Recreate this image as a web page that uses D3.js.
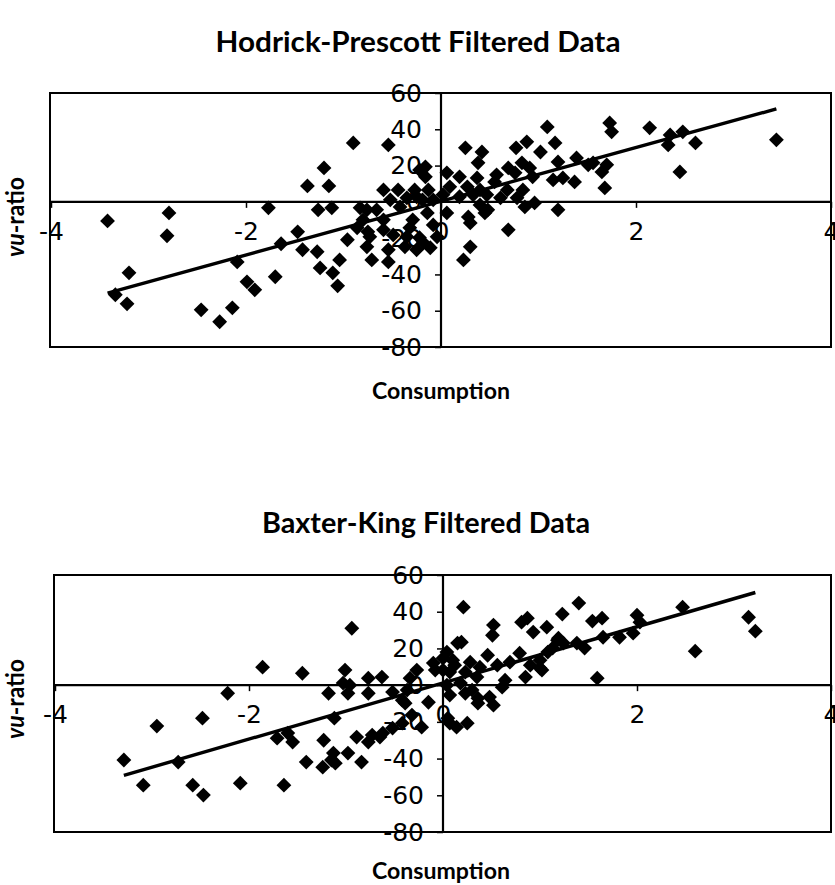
<!DOCTYPE html>
<html>
<head>
<meta charset="utf-8">
<script src="https://cdn.jsdelivr.net/npm/d3@7"></script>
<style>
  html, body { margin: 0; padding: 0; background: #fff; }
  svg { display: block; }
</style>
</head>
<body>
<svg id="chart" width="835" height="885"></svg>
<script>
// ---------- DATA ----------
const titles = ["Hodrick-Prescott Filtered Data", "Baxter-King Filtered Data"];
const xLabel = "Consumption";
const xTicks = [-4, -2, 0, 2, 4];
const yTicks = [-80, -60, -40, -20, 0, 20, 40, 60];

// Hodrick-Prescott filtered data: consumption (x) vs vu-ratio (y)
const hpX = [-3.42,-2.79,-2.81,-3.20,-3.34,-3.22,-2.46,-2.27,-2.14,-1.99,-1.91,-1.70,-2.09,-1.77,-1.64,-1.47,-1.42,-1.27,-1.24,-1.11,
  -1.06,-1.04,-0.96,-1.37,-1.20,-1.15,-1.26,-1.12,-0.90,-0.54,-0.16,-0.16,-0.59,-0.44,-0.27,-0.13,-0.52,-0.35,-0.19,-0.08,
  -0.76,-0.66,-0.42,-0.14,0.06,-0.80,-0.59,-0.29,-0.86,-0.59,-0.32,-0.08,-0.73,-0.49,-0.35,-0.22,-0.04,-0.76,-0.54,-0.37,
  -0.25,-0.11,-0.71,-0.54,1.09,0.25,0.42,1.17,0.88,0.77,1.02,0.38,0.69,0.83,0.91,1.20,1.39,1.56,0.57,0.76,
  0.94,1.15,1.25,1.37,0.06,0.19,0.37,0.09,0.27,0.40,0.55,0.68,0.84,0.02,0.19,0.33,0.47,0.61,0.78,0.40,
  0.48,0.86,0.96,1.20,0.28,0.30,0.45,0.69,0.30,0.23,1.73,1.75,2.14,2.35,2.33,2.48,2.61,3.44,2.45,1.70,
  1.65,1.68,1.51,-0.22,-0.18,-0.83,-0.75,-0.25];
const hpY = [-10.5,-6.1,-18.7,-39.1,-51.2,-56.2,-59.5,-66.1,-58.4,-44.1,-48.5,-41.3,-33.1,-3.3,-23.1,-16.5,-26.4,-27.5,-36.4,-39.1,
  -46.3,-32.0,-20.9,8.8,18.7,8.8,-4.4,-3.3,32.5,31.4,19.3,13.8,6.6,6.6,6.6,6.6,1.1,2.2,1.1,1.1,
  -4.4,-4.4,-2.8,-6.1,-6.1,-9.9,-9.9,-9.9,-14.3,-15.4,-14.3,-12.7,-19.3,-18.2,-19.3,-19.8,-19.3,-24.8,-26.4,-24.8,
  -26.4,-25.3,-32.0,-33.1,41.3,29.8,27.5,32.5,33.1,29.8,27.5,21.5,18.7,21.5,18.7,22.0,24.2,21.5,14.9,16.0,
  13.8,12.1,13.2,11.0,16.0,13.8,13.2,8.3,8.3,6.6,11.0,6.6,6.6,3.9,2.8,3.9,3.9,2.2,2.2,-1.7,
  -4.4,-2.8,-0.6,-4.4,-8.3,-11.6,-6.1,-15.4,-24.8,-32.0,43.5,38.6,40.8,36.9,31.4,38.6,32.5,34.2,16.5,20.4,
  16.5,7.7,20.4,17.6,-22.6,-3.3,-16.5,2.8];
const hpTrend = [0.3, 14.8];   // [intercept, slope]

// Baxter-King filtered data
const bkX = [-3.29,-3.09,-2.95,-2.73,-2.58,-2.47,-2.48,-2.22,-2.09,-1.86,-1.71,-1.60,-1.55,-1.64,-1.45,-1.41,-1.23,-1.24,-1.15,-1.11,
  -1.12,-0.98,-0.84,-0.94,-1.18,-1.01,-1.03,-0.96,-0.98,-0.77,-0.77,-0.63,-0.89,-0.77,-0.65,-0.52,-0.42,-0.32,-0.22,-0.42,
  -0.52,-0.37,-0.27,-0.34,-0.15,-0.10,-0.08,-0.39,0.00,0.00,0.12,0.15,0.05,0.14,-0.73,-0.62,-1.13,0.21,0.52,0.51,
  0.87,0.81,0.93,1.07,1.23,1.40,1.54,1.64,1.65,0.19,0.46,0.79,1.00,1.08,1.19,1.24,1.38,1.46,1.59,0.85,
  0.64,0.61,0.38,0.56,0.69,0.90,1.00,0.04,0.10,0.28,0.07,0.23,0.35,0.04,0.18,0.30,0.07,0.23,0.36,0.48,
  0.52,0.36,0.07,0.25,2.47,2.00,2.03,3.15,3.22,2.60,1.96,1.82,1.18,1.13,1.02];
const bkY = [-40.8,-54.5,-22.3,-41.9,-54.5,-59.9,-18.0,-4.4,-53.4,9.8,-28.9,-26.1,-31.0,-54.5,6.5,-41.9,-30.0,-44.7,-40.8,-42.5,
  -18.0,-37.0,-41.9,31.0,-4.4,8.2,1.1,0.0,-4.4,3.8,-4.4,4.4,-28.3,-31.0,-28.3,-23.4,-20.7,-16.3,-22.9,-8.2,
  -3.8,-2.7,8.2,3.8,-9.3,12.0,8.2,-9.8,8.2,14.7,10.9,22.9,-18.0,-22.9,-27.2,-26.1,-37.0,42.5,32.7,27.2,
  36.5,34.3,28.9,31.6,38.7,44.7,34.9,36.5,26.1,23.4,16.3,17.4,13.6,18.0,25.6,22.9,22.9,20.2,3.8,4.4,
  2.7,-1.1,9.8,10.9,12.5,10.9,9.3,18.0,13.6,12.5,7.1,7.1,4.4,0.0,1.1,-2.7,-5.4,-4.4,-7.1,-6.5,
  -10.9,-9.8,-20.7,-20.7,42.5,38.1,34.3,37.0,29.4,18.5,28.3,26.1,24.5,20.2,8.2];
const bkTrend = [1.2, 15.3];   // [intercept, slope]

// ---------- DRAWING ----------
const svg = d3.select("#chart");

const panels = [
  { title: titles[0], xs: hpX, ys: hpY, trend: hpTrend,
    left: 50, right: 831, top: 93, bottom: 347,
    titleX: 418, titleY: 52, titleW: 405, xLabY: 399, yLabY: 217 },
  { title: titles[1], xs: bkX, ys: bkY, trend: bkTrend,
    left: 54, right: 831, top: 575, bottom: 832,
    titleX: 426, titleY: 533, titleW: 328, xLabY: 879, yLabY: 699 }
];

const diamond = d3.symbol().type(d3.symbolSquare).size(110);
const labelFont = "'DejaVu Sans', Verdana, sans-serif";
const titleFont = "Lato, 'Open Sans', sans-serif";

panels.forEach(p => {
  const x = d3.scaleLinear().domain([-4, 4]).range([p.left + 1, p.right]);
  const y = d3.scaleLinear().domain([-80, 60]).range([p.bottom, p.top]);
  const g = svg.append("g");

  // title
  g.append("text")
    .attr("x", p.titleX).attr("y", p.titleY)
    .attr("text-anchor", "middle")
    .attr("font-family", titleFont).attr("font-weight", 700)
    .attr("font-size", 28)
    .attr("textLength", p.titleW).attr("lengthAdjust", "spacingAndGlyphs")
    .text(p.title);

  // x-axis label
  g.append("text")
    .attr("x", 441).attr("y", p.xLabY)
    .attr("text-anchor", "middle")
    .attr("font-family", titleFont).attr("font-weight", 700)
    .attr("font-size", 23.5)
    .attr("textLength", 138).attr("lengthAdjust", "spacingAndGlyphs")
    .text(xLabel);

  // y-axis label (vu italic)
  const yl = g.append("text")
    .attr("transform", `translate(24,${p.yLabY}) rotate(-90)`)
    .attr("text-anchor", "middle")
    .attr("font-family", titleFont).attr("font-weight", 700)
    .attr("font-size", 25)
    .attr("textLength", 80).attr("lengthAdjust", "spacingAndGlyphs");
  yl.append("tspan").attr("font-style", "italic").text("vu");
  yl.append("tspan").text("-ratio");

  // plot frame
  g.append("rect")
    .attr("x", p.left).attr("y", p.top)
    .attr("width", p.right - p.left).attr("height", p.bottom - p.top)
    .attr("fill", "none").attr("stroke", "#000").attr("stroke-width", 2);

  // horizontal axis through y = 0
  const xAxis = d3.axisBottom(x).tickValues(xTicks).tickSize(6).tickPadding(14)
    .tickFormat(d => d < 0 ? "-" + Math.abs(d) : String(d));
  const gx = g.append("g").attr("transform", `translate(0,${y(0)})`).call(xAxis);
  gx.select(".domain").attr("stroke", "#000").attr("stroke-width", 2.2)
    .attr("d", `M${p.left},0H${p.right}`);
  gx.selectAll(".tick line").attr("stroke", "#000").attr("stroke-width", 1.5);
  gx.selectAll(".tick text").attr("font-family", labelFont).attr("font-size", 25)
    .attr("fill", "#000");

  // vertical axis through x = 0
  const yAxis = d3.axisLeft(y).tickValues(yTicks).tickSize(6).tickPadding(13)
    .tickFormat(d => d < 0 ? "-" + Math.abs(d) : String(d));
  const gy = g.append("g").attr("transform", `translate(${x(0)},0)`).call(yAxis);
  gy.select(".domain").attr("stroke", "#000").attr("stroke-width", 2.2)
    .attr("d", `M0,${p.top}V${p.bottom}`);
  gy.selectAll(".tick line").attr("stroke", "#000").attr("stroke-width", 1.5);
  gy.selectAll(".tick text").attr("font-family", labelFont).attr("font-size", 25)
    .attr("fill", "#000");

  // points
  const pts = p.xs.map((v, i) => [v, p.ys[i]]);
  g.append("g").selectAll("path").data(pts).join("path")
    .attr("d", diamond)
    .attr("transform", d => `translate(${x(d[0])},${y(d[1])}) rotate(45)`)
    .attr("fill", "#000");

  // linear trend line
  const [b0, b1] = p.trend;
  const xmin = d3.min(p.xs), xmax = d3.max(p.xs);
  g.append("line")
    .attr("x1", x(xmin)).attr("y1", y(b0 + b1 * xmin))
    .attr("x2", x(xmax)).attr("y2", y(b0 + b1 * xmax))
    .attr("stroke", "#000").attr("stroke-width", 3.4);
});
</script>
</body>
</html>
